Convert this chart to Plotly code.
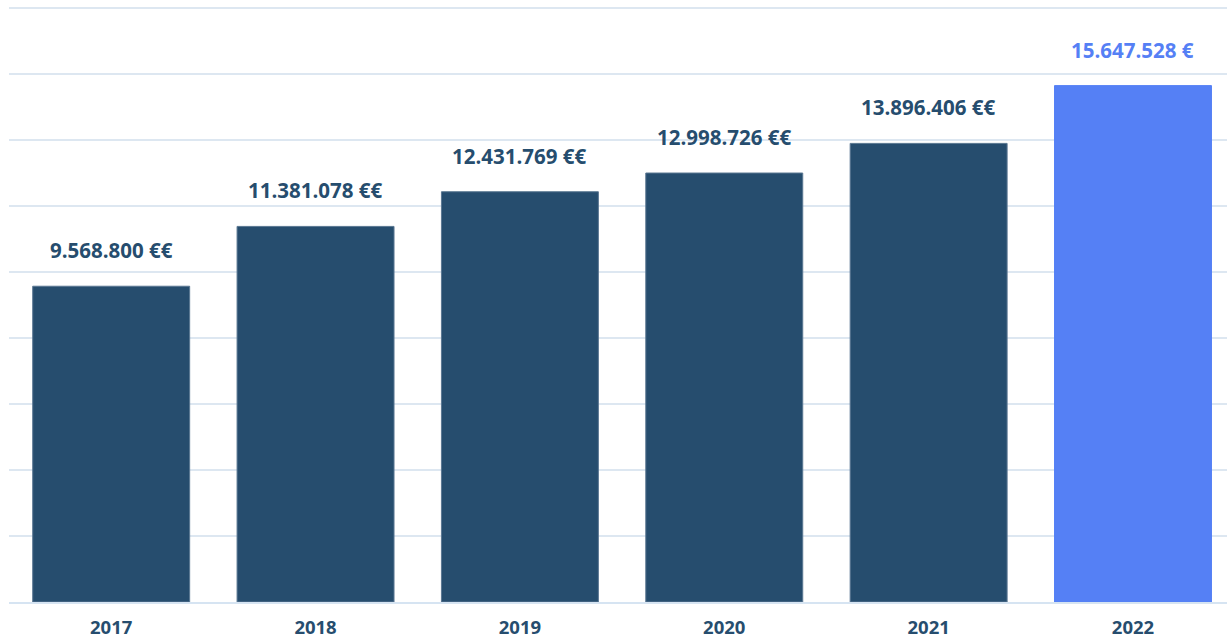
import plotly.graph_objects as go

years = ["2017", "2018", "2019", "2020", "2021", "2022"]
values = [9568800, 11381078, 12431769, 12998726, 13896406, 15647528]
suffixes = [" €€", " €€", " €€", " €€", " €€", " €"]
dark = "#264d6e"
light = "#5580f5"
colors = [dark, dark, dark, dark, dark, light]
line_colors = ["#5a7792"] * 5 + [light]

labels = [f"{v:,}".replace(",", ".") + s for v, s in zip(values, suffixes)]

fig = go.Figure()
fig.add_trace(go.Bar(
    x=years, y=values,
    marker=dict(color=colors, line=dict(color=line_colors, width=1)),
    hoverinfo="skip",
))

for i, (y, t, c) in enumerate(zip(values, labels, colors)):
    fig.add_annotation(
        x=i, y=y, xref="x", yref="y", text=f"<b>{t}</b>", showarrow=False,
        yanchor="bottom", yshift=20,
        font=dict(family="Open Sans", size=20.5, color=c),
    )

fig.update_layout(
    width=1227, height=638,
    margin=dict(l=9, r=0, t=6, b=36),
    paper_bgcolor="white", plot_bgcolor="white",
    bargap=0.232,
    showlegend=False,
    font=dict(family="Open Sans", color=dark),
    xaxis=dict(
        type="category",
        range=[-0.5, 5.46],
        automargin=False,
        showgrid=False, zeroline=False,
        showline=True, linecolor="#d6e4f2", linewidth=2,
        tickfont=dict(family="Open Sans", size=18.5, color=dark, weight="bold"),
        ticks="", ticklabelstandoff=8,
    ),
    yaxis=dict(
        range=[0, 18060000], dtick=2000000,
        automargin=False,
        showgrid=True, gridcolor="#dde7f1", gridwidth=2,
        zeroline=False, showticklabels=False, ticks="",
    ),
)

fig.write_html(
    "out.html",
    config={"displayModeBar": False},
    post_script="document.body.style.margin='0';",
)
